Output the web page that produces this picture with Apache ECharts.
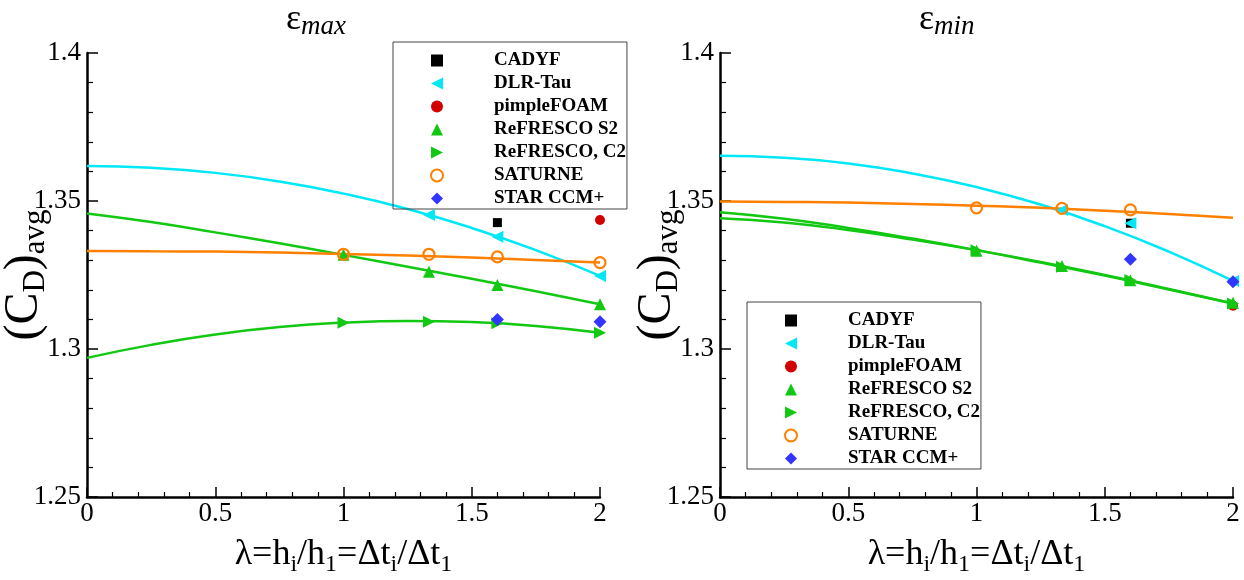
<!DOCTYPE html>
<html>
<head>
<meta charset="utf-8">
<script src="https://cdn.jsdelivr.net/npm/echarts@6/dist/echarts.min.js"></script>
<style>
  html, body { margin: 0; padding: 0; background: #fff; }
  #chart { width: 1244px; height: 580px; }
</style>
</head>
<body>
<div id="chart"></div>
<script>
// Refinement parameter λ at which the fitted curves are sampled
const X_FIT = [0, 0.25, 0.5, 0.75, 1, 1.25, 1.5, 1.75, 2];

// Fitted extrapolation curves, ε_max panel
const maxFitDLR = [1.3618, 1.3612, 1.3595, 1.3566, 1.3525, 1.3473, 1.3409, 1.3334, 1.3247];
const maxFitS2  = [1.3458, 1.3429, 1.3394, 1.3357, 1.3318, 1.3278, 1.3237, 1.3195, 1.3151];
const maxFitC2  = [1.2970, 1.3014, 1.3049, 1.3074, 1.3089, 1.3095, 1.3091, 1.3078, 1.3055];
const maxFitSAT = [1.3331, 1.3330, 1.3329, 1.3326, 1.3321, 1.3316, 1.3309, 1.3301, 1.3292];

// Fitted extrapolation curves, ε_min panel
const minFitDLR = [1.3653, 1.3646, 1.3627, 1.3593, 1.3547, 1.3488, 1.3415, 1.3329, 1.3230];
const minFitS2  = [1.3462, 1.3440, 1.3409, 1.3373, 1.3334, 1.3292, 1.3248, 1.3201, 1.3154];
const minFitC2  = [1.3442, 1.3427, 1.3402, 1.3370, 1.3334, 1.3294, 1.3250, 1.3203, 1.3154];
const minFitSAT = [1.3498, 1.3497, 1.3495, 1.3490, 1.3484, 1.3477, 1.3467, 1.3456, 1.3443];

// Solver results [λ, (C_D)avg], ε_max panel
const maxCADYF  = [[1.6, 1.3427]];
const maxDLR    = [[1.333, 1.3453], [1.6, 1.3379], [2, 1.3247]];
const maxPimple = [[2, 1.3436]];
const maxS2     = [[1, 1.3318], [1.333, 1.3261], [1.6, 1.3216], [2, 1.3151]];
const maxC2     = [[1, 1.3089], [1.333, 1.3092], [1.6, 1.3087], [2, 1.3055]];
const maxSAT    = [[1, 1.3320], [1.333, 1.3320], [1.6, 1.3311], [2, 1.3292]];
const maxSTAR   = [[1.6, 1.3100], [2, 1.3092]];

// Solver results [λ, (C_D)avg], ε_min panel
const minCADYF  = [[1.6, 1.3425]];
const minDLR    = [[1.333, 1.3470], [1.6, 1.3425], [2, 1.3230]];
const minPimple = [[2, 1.3146]];
const minS2     = [[1, 1.3332], [1.333, 1.3280], [1.6, 1.3232], [2, 1.3156]];
const minC2     = [[1, 1.3334], [1.333, 1.3278], [1.6, 1.3233], [2, 1.3154]];
const minSAT    = [[1, 1.3477], [1.333, 1.3475], [1.6, 1.3470]];
const minSTAR   = [[1.6, 1.3303], [2, 1.3227]];

const SOLVERS = ['CADYF', 'DLR-Tau', 'pimpleFOAM', 'ReFRESCO S2', 'ReFRESCO, C2', 'SATURNE', 'STAR CCM+'];
const X_TICKS = [0, 2, 0.5];
const Y_TICKS = [1.25, 1.4, 0.05];

const SERIF = 'Liberation Serif';
const CYAN = '#00e8f8', GREEN = '#12c812', ORANGE = '#ff8000', RED = '#d00000', BLUE = '#3434ff';

const MARK = {
  'CADYF':        { color: '#000', symbol: 'rect', size: 9 },
  'DLR-Tau':      { color: CYAN, symbol: 'path://M0,5L10,0L10,10Z', size: 12 },
  'pimpleFOAM':   { color: RED, symbol: 'circle', size: 10 },
  'ReFRESCO S2':  { color: GREEN, symbol: 'triangle', size: 12 },
  'ReFRESCO, C2': { color: GREEN, symbol: 'path://M10,5L0,0L0,10Z', size: 12 },
  'SATURNE':      { color: ORANGE, symbol: 'circle', size: 11, hollow: true },
  'STAR CCM+':    { color: BLUE, symbol: 'diamond', size: 13 }
};

const panels = [
  { fits: [[maxFitDLR, CYAN], [maxFitS2, GREEN], [maxFitC2, GREEN], [maxFitSAT, ORANGE]],
    pts: [maxCADYF, maxDLR, maxPimple, maxS2, maxC2, maxSAT, maxSTAR] },
  { fits: [[minFitDLR, CYAN], [minFitS2, GREEN], [minFitC2, GREEN], [minFitSAT, ORANGE]],
    pts: [minCADYF, minDLR, minPimple, minS2, minC2, minSAT, minSTAR] }
];

const series = [];
panels.forEach((p, i) => {
  p.fits.forEach(([ys, color]) => {
    series.push({
      type: 'line', xAxisIndex: i, yAxisIndex: i, smooth: true, showSymbol: false,
      silent: true, z: 2,
      data: X_FIT.map((x, k) => [x, ys[k]]),
      lineStyle: { color: color, width: 2.5 }
    });
  });
  p.pts.forEach((data, k) => {
    const name = SOLVERS[k], m = MARK[name];
    series.push({
      type: 'scatter', name: name, xAxisIndex: i, yAxisIndex: i, clip: false, z: 3 + k,
      data: data, symbol: m.symbol, symbolSize: m.size,
      itemStyle: m.hollow
        ? { color: 'rgba(255,255,255,0)', borderColor: m.color, borderWidth: 2.2, opacity: 1 }
        : { color: m.color, opacity: 1 }
    });
  });
});

const grids = [
  { left: 87, right: 644, top: 53, bottom: 83, containLabel: false, outerBoundsMode: 'none' },
  { left: 720, right: 11, top: 53, bottom: 83, containLabel: false, outerBoundsMode: 'none' }
];

const xNameRich = {
  m: { fontFamily: SERIF, fontSize: 36, color: '#000', lineHeight: 44, verticalAlign: 'middle' },
  s: { fontFamily: SERIF, fontSize: 24, color: '#000', lineHeight: 24, verticalAlign: 'bottom' }
};
const yNameRich = {
  m: { fontFamily: SERIF, fontSize: 48, color: '#000', lineHeight: 54, verticalAlign: 'middle' },
  s: { fontFamily: SERIF, fontSize: 31, color: '#000', lineHeight: 31, verticalAlign: 'bottom' }
};

function xAxis(i) {
  return {
    type: 'value', gridIndex: i, min: X_TICKS[0], max: X_TICKS[1], interval: X_TICKS[2],
    axisLine: { show: true, onZero: false, lineStyle: { color: '#000', width: 2.5 } },
    axisTick: { inside: true, length: 10, lineStyle: { color: '#000', width: 1.5 } },
    minorTick: { show: true, splitNumber: 5, length: 5, lineStyle: { color: '#000', width: 1.2 } },
    splitLine: { show: false },
    axisLabel: { fontFamily: SERIF, fontSize: 27, color: '#000', margin: 3 },
    name: '{m|λ=h}{s|i}{m|/h}{s|1}{m|=Δt}{s|i}{m|/Δt}{s|1}',
    nameLocation: 'middle', nameGap: 36, nameMoveOverlap: false,
    nameTextStyle: { rich: xNameRich }
  };
}

function yAxis(i) {
  return {
    type: 'value', gridIndex: i, min: Y_TICKS[0], max: Y_TICKS[1], interval: Y_TICKS[2],
    axisLine: { show: true, onZero: false, lineStyle: { color: '#000', width: 2.5 } },
    axisTick: { inside: true, length: 11, lineStyle: { color: '#000', width: 1.5 } },
    minorTick: { show: true, splitNumber: 5, length: 6, lineStyle: { color: '#000', width: 1.2 } },
    splitLine: { show: false },
    axisLabel: { fontFamily: SERIF, fontSize: 27, color: '#000', margin: 6 },
    name: '{m|(C}{s|D}{m|)}{s|avg}',
    nameLocation: 'middle', nameRotate: 90, nameGap: 36, nameMoveOverlap: false,
    nameTextStyle: { rich: yNameRich }
  };
}

function legend(left, top) {
  return {
    data: SOLVERS, orient: 'vertical', left: left, top: top,
    padding: [9, 1, 1, 37], itemGap: 4, itemWidth: 12, itemHeight: 12,
    borderColor: '#444', borderWidth: 1, selectedMode: false,
    textStyle: { fontFamily: SERIF, fontWeight: 'bold', fontSize: 19, lineHeight: 19,
                 color: '#000', padding: [0, 0, 0, 46] }
  };
}

const titleRich = {
  e: { fontFamily: SERIF, fontSize: 36, fontWeight: 'normal', color: '#000', lineHeight: 40, verticalAlign: 'middle' },
  s: { fontFamily: SERIF, fontSize: 27, fontWeight: 'normal', fontStyle: 'italic', color: '#000', lineHeight: 30, verticalAlign: 'bottom' }
};

const chart = echarts.init(document.getElementById('chart'), null, { renderer: 'canvas' });
chart.setOption({
  backgroundColor: '#fff',
  animation: false,
  title: [
    { text: '{e|ε}{s|max}', left: 286, top: 0, padding: 0, textStyle: { fontWeight: 'normal', rich: titleRich } },
    { text: '{e|ε}{s|min}', left: 919, top: 0, padding: 0, textStyle: { fontWeight: 'normal', rich: titleRich } }
  ],
  legend: [legend(393, 42), legend(747, 302)],
  grid: grids,
  xAxis: [xAxis(0), xAxis(1)],
  yAxis: [yAxis(0), yAxis(1)],
  series: series
});
</script>
</body>
</html>
